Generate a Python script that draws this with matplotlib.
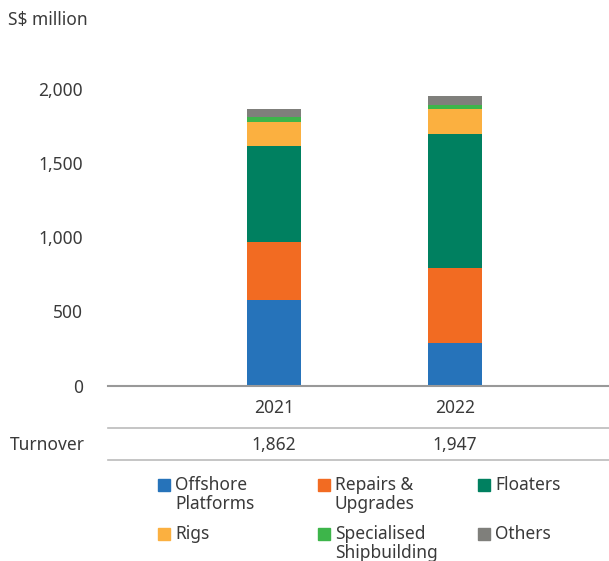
import matplotlib
matplotlib.use("Agg")
import matplotlib.pyplot as plt
from matplotlib.patches import Rectangle

years = ["2021", "2022"]
turnover = [1862, 1947]
segments = ["Offshore\nPlatforms", "Repairs &\nUpgrades", "Floaters",
            "Rigs", "Specialised\nShipbuilding", "Others"]
offshore = [579, 287]
repairs = [390, 505]
floaters = [644, 902]
rigs = [162, 168]
specialised = [33, 27]
others = [54, 58]
colors = ["#2673BA", "#F26B22", "#008060", "#FBB040", "#3DB54A", "#7F7F7B"]

plt.rcParams["font.family"] = ["Noto Sans", "DejaVu Sans"]
TXT = "#3a3a3a"
FS = 12.5
W, H = 609, 561

fig = plt.figure(figsize=(W / 100, H / 100), dpi=100)
ax = fig.add_axes([108 / W, 1 - 385.7 / H, 1 - 108 / W, (385.7 - 58.8) / H])

x = list(range(len(years)))
bottom = [0] * len(years)
for vals, col in zip([offshore, repairs, floaters, rigs, specialised, others], colors):
    ax.bar(x, vals, width=0.298, bottom=bottom, color=col, zorder=2)
    bottom = [b + v for b, v in zip(bottom, vals)]

ax.set_xlim(-0.917, 1.85)
ax.set_ylim(0, 2200)
ax.set_yticks([0, 500, 1000, 1500, 2000])
ax.set_yticklabels(["0", "500", "1,000", "1,500", "2,000"])
ax.set_xticks([])
for s in ["top", "right", "left"]:
    ax.spines[s].set_visible(False)
ax.spines["bottom"].set_color("#999999")
ax.spines["bottom"].set_linewidth(1.5)
ax.tick_params(axis="y", length=0, pad=18, labelsize=FS, labelcolor=TXT)


def px(xp, yp):
    return xp / W, 1 - yp / H


fig.text(*px(8, 20), "S$ million", fontsize=FS, color=TXT, va="center", ha="left")

# year labels and turnover row
for xi, yr, tv in zip(x, years, turnover):
    xd = ax.transData.transform((xi, 0))[0] / W
    fig.text(xd, 1 - 408 / H, yr, fontsize=FS, color=TXT, ha="center", va="center")
    fig.text(xd, 1 - 445 / H, f"{tv:,}", fontsize=FS, color=TXT, ha="center", va="center")
fig.text(*px(10, 445), "Turnover", fontsize=FS, color=TXT, ha="left", va="center")
for yl in [428, 460]:
    fig.add_artist(plt.Line2D([108 / W, 1], [1 - yl / H] * 2, color="#bbbbbb", lw=1.2,
                              transform=fig.transFigure))

# legend
lx = [158, 318, 478]
ly = [485, 534]
for i, (lab, col) in enumerate(zip(segments, colors)):
    cx, cy = lx[i % 3], ly[i // 3]
    fig.add_artist(Rectangle(px(cx, cy + 6), 12 / W, 12 / H, color=col,
                             transform=fig.transFigure))
    fig.text(*px(cx + 17, cy - 9), lab, fontsize=FS, color=TXT, ha="left", va="top",
             linespacing=1.1)

fig.savefig("out.png", dpi=100)
